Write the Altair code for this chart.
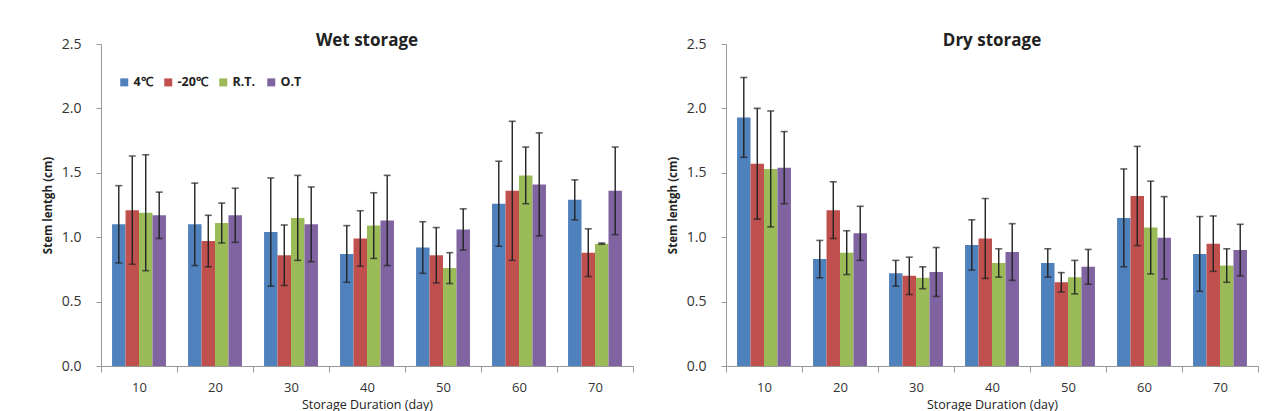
import altair as alt
import pandas as pd

# Storage durations (days) and storage treatments
days = ["10", "20", "30", "40", "50", "60", "70"]
treatments = ["4℃", "-20℃", "R.T.", "O.T"]
colors = ["#4F81BD", "#C0504D", "#9BBB59", "#8064A2"]

# Wet storage: mean stem length (cm) and error (+/-) per treatment
wet_4c = [1.10, 1.10, 1.04, 0.87, 0.92, 1.26, 1.29]
wet_4c_err = [0.30, 0.32, 0.42, 0.22, 0.20, 0.33, 0.155]
wet_m20 = [1.21, 0.97, 0.86, 0.99, 0.86, 1.36, 0.88]
wet_m20_err = [0.42, 0.20, 0.235, 0.215, 0.215, 0.54, 0.185]
wet_rt = [1.19, 1.11, 1.15, 1.09, 0.76, 1.48, 0.95]
wet_rt_err = [0.45, 0.155, 0.33, 0.255, 0.12, 0.22, 0.005]
wet_ot = [1.17, 1.17, 1.10, 1.13, 1.06, 1.41, 1.36]
wet_ot_err = [0.18, 0.21, 0.29, 0.35, 0.16, 0.40, 0.34]

# Dry storage: mean stem length (cm) and error (+/-) per treatment
dry_4c = [1.93, 0.83, 0.72, 0.94, 0.80, 1.15, 0.87]
dry_4c_err = [0.31, 0.145, 0.10, 0.195, 0.11, 0.38, 0.29]
dry_m20 = [1.57, 1.21, 0.70, 0.99, 0.65, 1.32, 0.95]
dry_m20_err = [0.43, 0.22, 0.145, 0.31, 0.075, 0.385, 0.215]
dry_rt = [1.53, 0.88, 0.685, 0.80, 0.69, 1.075, 0.78]
dry_rt_err = [0.45, 0.17, 0.085, 0.11, 0.13, 0.36, 0.13]
dry_ot = [1.54, 1.03, 0.73, 0.885, 0.77, 0.995, 0.90]
dry_ot_err = [0.28, 0.21, 0.19, 0.22, 0.135, 0.32, 0.20]


def build_frame(series):
    rows = []
    for name, (means, errs) in zip(treatments, series):
        for d, m, e in zip(days, means, errs):
            rows.append({"day": d, "treatment": name, "mean": m,
                         "lo": m - e, "hi": m + e})
    return pd.DataFrame(rows)


wet = build_frame([(wet_4c, wet_4c_err), (wet_m20, wet_m20_err),
                   (wet_rt, wet_rt_err), (wet_ot, wet_ot_err)])
dry = build_frame([(dry_4c, dry_4c_err), (dry_m20, dry_m20_err),
                   (dry_rt, dry_rt_err), (dry_ot, dry_ot_err)])

FONT = "Open Sans"


def panel(df, title, show_legend):
    base = alt.Chart(df).encode(
        x=alt.X("day:N", sort=days,
                scale=alt.Scale(paddingInner=0, paddingOuter=0),
                axis=alt.Axis(title="Storage Duration (day)", labelAngle=0,
                              tickBand="extent", tickSize=6, labelPadding=9,
                              titlePadding=4, labelFontSize=13,
                              titleFontSize=12.5, titleFontWeight="normal")),
        xOffset=alt.XOffset("treatment:N", sort=treatments,
                            scale=alt.Scale(paddingInner=0, paddingOuter=0.82)),
    )
    if show_legend:
        legend = alt.Legend(title=None, orient="none", legendX=17, legendY=32,
                            direction="horizontal", columns=4,
                            symbolType="square", symbolSize=64,
                            symbolStrokeWidth=0, labelFontSize=12.5,
                            labelFontWeight="bold", labelColor="#222",
                            labelFont=FONT, columnPadding=9, labelOffset=3)
    else:
        legend = None
    bars = base.mark_bar().encode(
        y=alt.Y("mean:Q",
                scale=alt.Scale(domain=[0, 2.5], nice=False),
                axis=alt.Axis(title="Stem lentgh (cm)", values=[0, 0.5, 1, 1.5, 2, 2.5],
                              format=".1f", tickSize=5, labelPadding=15,
                              titlePadding=8, labelFontSize=14,
                              titleFontSize=11.5, titleFontWeight="bold")),
        color=alt.Color("treatment:N", sort=treatments,
                        scale=alt.Scale(domain=treatments, range=colors),
                        legend=legend),
    )
    whisker = base.mark_rule(color="#222", strokeWidth=1.4).encode(
        y="lo:Q", y2="hi:Q")
    cap_hi = base.mark_tick(color="#222", thickness=1.6, size=7).encode(y="hi:Q")
    cap_lo = base.mark_tick(color="#222", thickness=1.6, size=7).encode(y="lo:Q")
    return alt.layer(bars, whisker, cap_hi, cap_lo).properties(
        width=532, height=322,
        title=alt.TitleParams(title, fontSize=17, fontWeight="bold",
                              font=FONT, color="#222", offset=-13),
    )


chart = alt.hconcat(
    panel(wet, "Wet storage", True),
    panel(dry, "Dry storage", False),
    spacing=33,
).resolve_scale(color="independent").properties(
    padding={"left": 42, "top": 32, "right": 0, "bottom": 0},
).configure_view(stroke=None).configure_axis(
    grid=False, domainColor="#999", tickColor="#999", labelColor="#333",
    titleColor="#222", labelFont=FONT, titleFont=FONT,
)

chart.save("out.html", embed_options={"renderer": "svg", "actions": False})
